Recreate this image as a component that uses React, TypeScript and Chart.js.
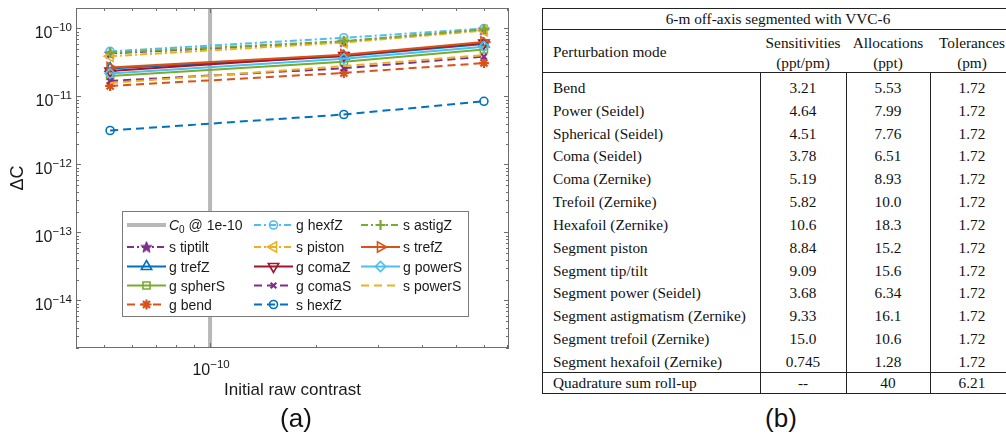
import React, { useEffect, useRef } from 'react';
import { Chart, registerables } from 'chart.js';
import { drawPoint } from 'chart.js/helpers';

Chart.register(...registerables);

// ---------- data (panel a) ----------
const xValues = [5.2e-11, 2.4e-10, 6.0e-10];
const c0Value = 1e-10;
const sTiptilt = [4.3e-11, 6.4e-11, 9.6e-11];
const gTrefZ = [2.58e-11, 3.9e-11, 5.9e-11];
const gSpherS = [2.0e-11, 3.25e-11, 4.9e-11];
const gBend = [1.43e-11, 2.22e-11, 3.1e-11];
const gHexfZ = [4.6e-11, 7.3e-11, 1.0e-10];
const sPiston = [3.9e-11, 6.2e-11, 9.3e-11];
const gComaZ = [2.37e-11, 4.0e-11, 6.1e-11];
const gComaS = [1.69e-11, 2.6e-11, 3.85e-11];
const sHexfZ = [3.16e-12, 5.43e-12, 8.5e-12];
const sAstigZ = [4.4e-11, 6.5e-11, 9.7e-11];
const sTrefZ = [2.67e-11, 4.1e-11, 6.3e-11];
const gPowerS = [2.18e-11, 3.6e-11, 5.4e-11];
const sPowerS = [1.58e-11, 2.8e-11, 4.06e-11];

const xMin = 4.16e-11;
const xMax = 7.07e-10;
const yMin = 2e-15;
const yMax = 2e-10;
const xTickValues = [5e-11, 6e-11, 7e-11, 8e-11, 9e-11, 1e-10, 2e-10, 3e-10, 4e-10, 5e-10, 6e-10, 7e-10];
const yDecadeExponents = [-15, -14, -13, -12, -11, -10];
const xAxisTitle = 'Initial raw contrast';
const yAxisTitle = 'ΔC';

// ---------- data (panel b) ----------
const tableTitle = '6-m off-axis segmented with VVC-6';
const headerMode = 'Perturbation mode';
const headerCols = [
  ['Sensitivities', '(ppt/pm)'],
  ['Allocations', '(ppt)'],
  ['Tolerances', '(pm)'],
];
const perturbationModes = [
  'Bend', 'Power (Seidel)', 'Spherical (Seidel)', 'Coma (Seidel)', 'Coma (Zernike)',
  'Trefoil (Zernike)', 'Hexafoil (Zernike)', 'Segment piston', 'Segment tip/tilt',
  'Segment power (Seidel)', 'Segment astigmatism (Zernike)', 'Segment trefoil (Zernike)',
  'Segment hexafoil (Zernike)',
];
const sensitivities = ['3.21', '4.64', '4.51', '3.78', '5.19', '5.82', '10.6', '8.84', '9.09', '3.68', '9.33', '15.0', '0.745'];
const allocations = ['5.53', '7.99', '7.76', '6.51', '8.93', '10.0', '18.3', '15.2', '15.6', '6.34', '16.1', '10.6', '1.28'];
const tolerances = ['1.72', '1.72', '1.72', '1.72', '1.72', '1.72', '1.72', '1.72', '1.72', '1.72', '1.72', '1.72', '1.72'];
const rollUp = ['Quadrature sum roll-up', '--', '40', '6.21'];

// ---------- styles ----------
const BLUE = '#0072BD';
const ORANGE = '#D95319';
const YELLOW = '#EDB120';
const PURPLE = '#7E2F8E';
const GREEN = '#77AC30';
const LBLUE = '#4DBEEE';
const DRED = '#A2142F';
const DASH = [8, 5];
const DASHDOT = [7, 3, 2, 3];
const SANS = '"Liberation Sans", Arial, Helvetica, sans-serif';
const SERIF = '"Liberation Serif", "Times New Roman", serif';
const TEXT = '#1a1a1a';

const isDecade = (v: number) => Math.abs(Math.log10(v) - Math.round(Math.log10(v))) < 1e-6;
const expOf = (v: number) => Math.round(Math.log10(v));

function makeStar(color: string, size: number) {
  const c = document.createElement('canvas');
  c.width = size;
  c.height = size;
  const g = c.getContext('2d')!;
  const cx = size / 2, cy = size / 2 + 0.5;
  const R = size / 2 - 0.5, r = R * 0.42;
  g.beginPath();
  for (let i = 0; i < 10; i++) {
    const rad = (Math.PI / 5) * i - Math.PI / 2;
    const rr = i % 2 === 0 ? R : r;
    const px = cx + Math.cos(rad) * rr, py = cy + Math.sin(rad) * rr;
    if (i === 0) g.moveTo(px, py); else g.lineTo(px, py);
  }
  g.closePath();
  g.fillStyle = color;
  g.fill();
  g.strokeStyle = color;
  g.lineWidth = 1;
  g.stroke();
  return c;
}

const LEG = { x: 122, y: 211, w: 346, h: 105 };
const legendColX = [127, 254, 361];
const legendRowY = [225, 247, 266.5, 285.5, 304.5];

// draws "10" with a raised exponent; anchor: 'right' (x = right edge) or 'center'
function drawPow(ctx: any, e: number, x: number, baseline: number, anchor: 'right' | 'center') {
  const base = '10';
  const ex = (e < 0 ? '\u2212' : '') + String(Math.abs(e));
  ctx.font = '16px ' + SANS;
  const wb = ctx.measureText(base).width;
  ctx.font = '11.5px ' + SANS;
  const we = ctx.measureText(ex).width;
  const total = wb + we;
  const left = anchor === 'right' ? x - total : x - total / 2;
  ctx.textAlign = 'left';
  ctx.textBaseline = 'alphabetic';
  ctx.fillStyle = TEXT;
  ctx.font = '16px ' + SANS;
  ctx.fillText(base, left, baseline);
  ctx.font = '11.5px ' + SANS;
  ctx.fillText(ex, left + wb, baseline - 7.5);
}

const axesBoxPlugin = {
  id: 'axesBox',
  afterDatasetsDraw(chart: any) {
    const { ctx, chartArea: a, scales } = chart;
    const xs = scales.x, ys = scales.y;
    ctx.save();
    ctx.strokeStyle = '#6e6e6e';
    ctx.lineWidth = 1;
    ctx.strokeRect(a.left + 0.5, a.top + 0.5, a.right - a.left - 1, a.bottom - a.top - 1);
    ctx.beginPath();
    xTickValues.forEach((v) => {
      const px = Math.round(xs.getPixelForValue(v)) + 0.5;
      const len = isDecade(v) ? 5 : 3;
      ctx.moveTo(px, a.bottom); ctx.lineTo(px, a.bottom - len);
      ctx.moveTo(px, a.top); ctx.lineTo(px, a.top + len);
    });
    yDecadeExponents.forEach((e) => {
      for (let k = 1; k <= 9; k++) {
        const v = k * Math.pow(10, e);
        if (v < yMin * 0.999 || v > yMax * 1.001) continue;
        const py = Math.round(ys.getPixelForValue(v)) + 0.5;
        const len = k === 1 ? 5 : 3;
        ctx.moveTo(a.left, py); ctx.lineTo(a.left + len, py);
        ctx.moveTo(a.right, py); ctx.lineTo(a.right - len, py);
      }
    });
    ctx.stroke();
    // tick labels (decades only), taken from the scales' own ticks
    xs.ticks.forEach((t: any) => {
      if (!isDecade(t.value)) return;
      drawPow(ctx, expOf(t.value), xs.getPixelForValue(t.value) + 1, a.bottom + 27, 'center');
    });
    ys.ticks.forEach((t: any) => {
      if (!isDecade(t.value)) return;
      drawPow(ctx, expOf(t.value), a.left - 4, ys.getPixelForValue(t.value) + 10, 'right');
    });
    ctx.restore();
  },
};

const legendPlugin = {
  id: 'matlabLegend',
  afterDraw(chart: any) {
    const ctx = chart.ctx;
    ctx.save();
    ctx.fillStyle = '#ffffff';
    ctx.fillRect(LEG.x, LEG.y, LEG.w, LEG.h);
    ctx.strokeStyle = '#7a7a7a';
    ctx.lineWidth = 1;
    ctx.strokeRect(LEG.x + 0.5, LEG.y + 0.5, LEG.w, LEG.h);
    chart.data.datasets.forEach((ds: any, i: number) => {
      const col = Math.floor(i / 5), row = i % 5;
      const x0 = legendColX[col], y = legendRowY[row];
      ctx.save();
      ctx.strokeStyle = ds.borderColor;
      ctx.lineWidth = ds.borderWidth;
      ctx.setLineDash(ds.borderDash || []);
      ctx.beginPath();
      ctx.moveTo(x0, y);
      ctx.lineTo(x0 + 39, y);
      ctx.stroke();
      ctx.setLineDash([]);
      if (ds.pointRadius > 0) {
        ctx.strokeStyle = ds.pointBorderColor;
        ctx.fillStyle = ds.pointBackgroundColor;
        ctx.lineWidth = ds.pointBorderWidth;
        drawPoint(ctx, { pointStyle: ds.pointStyle, rotation: ds.pointRotation || 0, radius: ds.pointRadius, borderWidth: ds.pointBorderWidth } as any, x0 + 19.5, y);
      }
      ctx.restore();
      ctx.fillStyle = TEXT;
      ctx.textBaseline = 'alphabetic';
      ctx.textAlign = 'left';
      const tx = x0 + 42, base = y + 5;
      if (ds.legendParts) {
        ctx.font = 'italic 14px ' + SANS;
        ctx.fillText(ds.legendParts[0], tx, base);
        let w = ctx.measureText(ds.legendParts[0]).width;
        ctx.font = '10px ' + SANS;
        ctx.fillText(ds.legendParts[1], tx + w, base + 3);
        w += ctx.measureText(ds.legendParts[1]).width;
        ctx.font = '14px ' + SANS;
        ctx.fillText(ds.legendParts[2], tx + w, base);
      } else {
        ctx.font = '14px ' + SANS;
        ctx.fillText(ds.label, tx, base);
      }
    });
    ctx.restore();
  },
};

type Series = { label: string; values: number[]; color: string; dash: number[]; style: any; radius: number; rotation?: number };

export default function App() {
  const ref = useRef<HTMLCanvasElement>(null);

  useEffect(() => {
    const star = makeStar(PURPLE, 13);
    const series: Series[] = [
      { label: 's tiptilt', values: sTiptilt, color: PURPLE, dash: DASHDOT, style: star, radius: 6 },
      { label: 'g trefZ', values: gTrefZ, color: BLUE, dash: [], style: 'triangle', radius: 6 },
      { label: 'g spherS', values: gSpherS, color: GREEN, dash: [], style: 'rect', radius: 5 },
      { label: 'g bend', values: gBend, color: ORANGE, dash: DASH, style: 'star', radius: 5 },
      { label: 'g hexfZ', values: gHexfZ, color: LBLUE, dash: DASHDOT, style: 'circle', radius: 4 },
      { label: 's piston', values: sPiston, color: YELLOW, dash: DASHDOT, style: 'triangle', radius: 6, rotation: -90 },
      { label: 'g comaZ', values: gComaZ, color: DRED, dash: [], style: 'triangle', radius: 6, rotation: 180 },
      { label: 'g comaS', values: gComaS, color: PURPLE, dash: DASH, style: 'crossRot', radius: 4 },
      { label: 's hexfZ', values: sHexfZ, color: BLUE, dash: DASH, style: 'circle', radius: 4 },
      { label: 's astigZ', values: sAstigZ, color: GREEN, dash: DASHDOT, style: 'cross', radius: 5 },
      { label: 's trefZ', values: sTrefZ, color: ORANGE, dash: [], style: 'triangle', radius: 6, rotation: 90 },
      { label: 'g powerS', values: gPowerS, color: LBLUE, dash: [], style: 'rectRot', radius: 5 },
      { label: 's powerS', values: sPowerS, color: YELLOW, dash: DASH, style: 'circle', radius: 0 },
    ];

    const datasets: any[] = [
      {
        label: 'C0 @ 1e-10',
        legendParts: ['C', '0', ' @ 1e-10'],
        data: [{ x: c0Value, y: yMin }, { x: c0Value, y: yMax }],
        borderColor: '#b8b8b8',
        backgroundColor: '#b8b8b8',
        borderWidth: 4,
        borderDash: [],
        pointRadius: 0,
        order: 0,
      },
      ...series.map((s, i) => ({
        label: s.label,
        data: s.values.map((y, j) => ({ x: xValues[j], y })),
        borderColor: s.color,
        backgroundColor: s.color,
        borderWidth: 2,
        borderDash: s.dash,
        pointStyle: s.style,
        pointRadius: s.radius,
        pointHoverRadius: s.radius,
        pointRotation: s.rotation || 0,
        pointBorderColor: s.color,
        pointBackgroundColor: s.style === star ? s.color : 'rgba(0,0,0,0)',
        pointBorderWidth: s.style === 'star' || s.style === 'crossRot' || s.style === 'cross' ? 2.2 : 1.6,
        tension: 0,
        order: -(i + 1),
      })),
    ];

    const yTicks: { value: number }[] = [];
    yDecadeExponents.forEach((e) => {
      for (let k = 1; k <= 9; k++) {
        const v = k * Math.pow(10, e);
        if (v >= yMin * 0.999 && v <= yMax * 1.001) yTicks.push({ value: v });
      }
    });

    const chart = new Chart(ref.current!, {
      type: 'line',
      data: { datasets },
      options: {
        animation: false,
        responsive: false,
        devicePixelRatio: 1,
        layout: { padding: { left: 0, top: 8, right: 21, bottom: 0 } },
        plugins: { legend: { display: false }, tooltip: { enabled: false }, title: { display: false } },
        scales: {
          x: {
            type: 'logarithmic',
            min: xMin,
            max: xMax,
            grid: { display: false },
            border: { display: false },
            afterBuildTicks: (scale: any) => { scale.ticks = xTickValues.map((v) => ({ value: v })); },
            afterFit: (scale: any) => { scale.height = 91; },
            ticks: { display: false, autoSkip: false, maxRotation: 0 },
            title: {
              display: true,
              text: xAxisTitle,
              color: TEXT,
              font: { family: SANS, size: 17 },
              padding: { top: 0, bottom: 38 },
            },
          },
          y: {
            type: 'logarithmic',
            min: yMin,
            max: yMax,
            grid: { display: false },
            border: { display: false },
            afterBuildTicks: (scale: any) => { scale.ticks = yTicks.map((t) => ({ value: t.value })); },
            afterFit: (scale: any) => { scale.width = 76; },
            ticks: { display: false, autoSkip: false },
            title: {
              display: true,
              text: yAxisTitle,
              color: TEXT,
              font: { family: SANS, size: 18 },
              padding: { top: 7, bottom: 0 },
            },
          },
        },
      } as any,
      plugins: [axesBoxPlugin, legendPlugin],
    });
    return () => chart.destroy();
  }, []);

  const line = (left: number, top: number, width: number, height: number, key: string) => (
    <div key={key} style={{ position: 'absolute', left, top, width, height, background: '#222' }} />
  );
  const rowH = 22.83;
  const firstRowCenter = 88;
  const colCenters = [803, 888, 972];
  const txt = (text: string, cx: number | null, left: number | null, cy: number, key: string) => (
    <div
      key={key}
      style={{
        position: 'absolute',
        left: cx !== null ? cx - 60 : (left as number),
        width: cx !== null ? 120 : 260,
        top: cy - 10,
        height: 20,
        lineHeight: '20px',
        textAlign: cx !== null ? 'center' : 'left',
        fontFamily: SERIF,
        fontSize: 15.3,
        color: '#111',
        whiteSpace: 'nowrap',
      }}
    >
      {text}
    </div>
  );

  const tableEls: any[] = [];
  tableEls.push(line(542, 8, 472, 1, 'lt'));
  tableEls.push(line(542, 29, 472, 1, 'l1'));
  tableEls.push(line(542, 72, 472, 1, 'l2'));
  tableEls.push(line(542, 372, 472, 1, 'l3'));
  tableEls.push(line(542, 393, 472, 1, 'lb'));
  tableEls.push(line(542, 8, 1, 386, 'vl'));
  tableEls.push(line(760, 72, 1, 322, 'v1'));
  tableEls.push(line(846, 72, 1, 322, 'v2'));
  tableEls.push(line(930, 72, 1, 322, 'v3'));
  tableEls.push(line(1014, 8, 1, 386, 'vr'));
  tableEls.push(
    <div key="title" style={{ position: 'absolute', left: 542, width: 472, top: 8.5, height: 20, lineHeight: '20px', textAlign: 'center', fontFamily: SERIF, fontSize: 15.3, color: '#111', whiteSpace: 'nowrap' }}>
      {tableTitle}
    </div>
  );
  tableEls.push(txt(headerMode, null, 553, 52, 'hm'));
  headerCols.forEach((h, i) => {
    tableEls.push(txt(h[0], colCenters[i], null, 43, 'h0' + i));
    tableEls.push(txt(h[1], colCenters[i], null, 63, 'h1' + i));
  });
  perturbationModes.forEach((m, r) => {
    const cy = firstRowCenter + r * rowH;
    tableEls.push(txt(m, null, 553, cy, 'm' + r));
    tableEls.push(txt(sensitivities[r], colCenters[0], null, cy, 's' + r));
    tableEls.push(txt(allocations[r], colCenters[1], null, cy, 'a' + r));
    tableEls.push(txt(tolerances[r], colCenters[2], null, cy, 't' + r));
  });
  tableEls.push(txt(rollUp[0], null, 553, 383, 'q0'));
  tableEls.push(txt(rollUp[1], colCenters[0], null, 383, 'q1'));
  tableEls.push(txt(rollUp[2], colCenters[1], null, 383, 'q2'));
  tableEls.push(txt(rollUp[3], colCenters[2], null, 383, 'q3'));

  const panelLabel = (text: string, cx: number) => (
    <div style={{ position: 'absolute', left: cx - 50, width: 100, top: 403, height: 30, lineHeight: '30px', textAlign: 'center', fontFamily: SANS, fontSize: 26, color: '#111' }}>
      {text}
    </div>
  );

  return (
    <div style={{ position: 'absolute', left: 0, top: 0, width: 1006, height: 439, overflow: 'hidden', background: '#fff' }}>
      <canvas ref={ref} width={530} height={439} style={{ position: 'absolute', left: 0, top: 0, width: 530, height: 439 }} />
      {tableEls}
      {panelLabel('(a)', 296)}
      {panelLabel('(b)', 781)}
    </div>
  );
}
